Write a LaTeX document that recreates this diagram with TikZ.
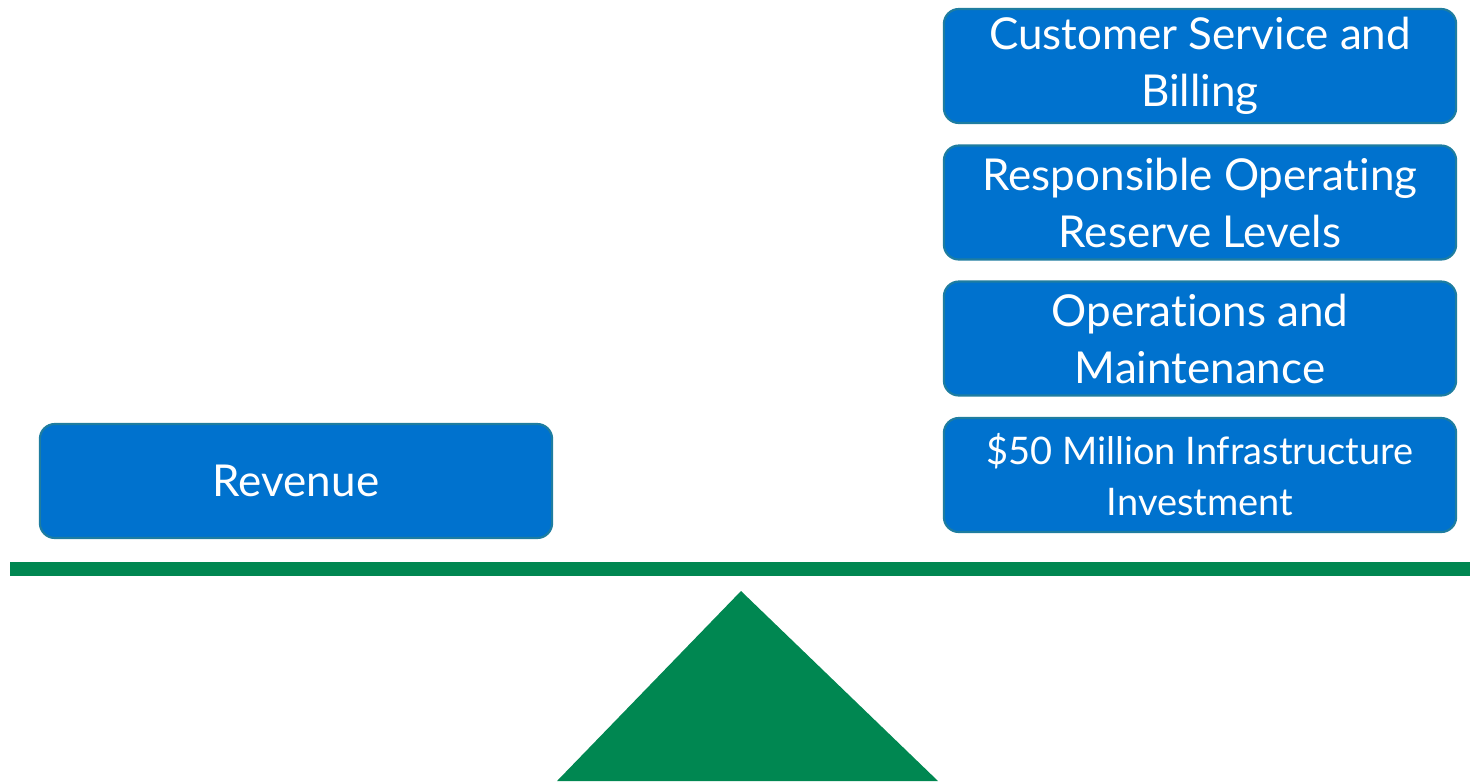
\documentclass[tikz,border=0pt]{standalone}
\usepackage{fontspec}
\setmainfont{Lato}[Ligatures=NoCommon]
\definecolor{boxblue}{RGB}{0,114,206}
\definecolor{boxedge}{RGB}{30,125,160}
\definecolor{scalegreen}{RGB}{0,135,81}

\begin{document}
\begin{tikzpicture}[x=0.01cm,y=-0.01cm,
	weight/.style={draw=boxedge,fill=boxblue,line width=.6pt,rounded corners=.15cm,
		minimum width=5.12cm,minimum height=1.14cm,inner sep=0pt,align=center,text=white,
		font=\fontsize{12.5}{16.2}\selectfont}]
\useasboundingbox (0,0) rectangle (1470,781);

\node [weight] (revenue) at (296,481) {Revenue};

\node [weight] (billing) at (1200,66) {Customer Service and\\Billing};
\node [weight] (reserve) at (1200,202.5) {Responsible Operating\\Reserve Levels};
\node [weight] (maint) at (1200,338.5) {Operations and\\Maintenance};
\node [weight,font=\fontsize{10.8}{14.5}\selectfont] (invest) at (1200,475) {\$50 Million Infrastructure\\Investment};

% beam and fulcrum
\fill [scalegreen] (10,562) rectangle (1470,576);
\fill [scalegreen] (741,591) -- (938,781) -- (557,781) -- cycle;

\end{tikzpicture}
\end{document}
